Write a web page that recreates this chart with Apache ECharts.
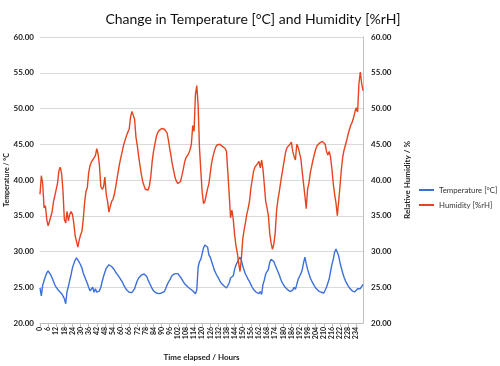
<!DOCTYPE html>
<html>
<head>
<meta charset="utf-8">
<script src="https://cdn.jsdelivr.net/npm/echarts@6/dist/echarts.min.js"></script>
<style>html,body{margin:0;padding:0;background:#fff}#c{width:500px;height:366px}</style>
</head>
<body>
<div id="c"></div>
<script>
// hours elapsed (category axis), one sample per hour
const hours = Array.from({length: 240}, (_, i) => String(i));

const temperature = [
24.9,23.8,25.3,25.9,26.5,27.0,27.3,27.1,26.7,26.3,25.8,25.3,25.0,24.8,24.5,24.3,24.1,23.8,23.4,22.7,
24.4,25.1,26.0,26.75,27.7,28.3,28.8,29.1,28.95,28.5,28.15,27.7,27.0,26.5,26.0,25.55,25.0,24.5,24.7,25.0,
24.3,24.8,24.3,24.2,24.5,25.0,25.8,26.5,27.1,27.65,27.9,28.15,28.1,27.9,27.7,27.45,27.1,26.85,26.6,26.3,
26.0,25.7,25.3,24.95,24.65,24.45,24.3,24.4,24.25,24.3,24.8,25.4,25.9,26.3,26.5,26.7,26.8,26.85,26.7,26.5,
26.0,25.6,25.2,24.8,24.5,24.35,24.2,24.1,24.1,24.1,24.2,24.2,24.4,24.8,25.3,25.7,26.0,26.4,26.7,26.8,
26.9,26.95,26.9,26.7,26.4,26.1,25.8,25.5,25.3,25.1,25.0,24.8,24.65,24.5,24.5,24.1,24.6,27.8,28.6,28.9,
29.7,30.5,30.9,31.0,30.6,29.5,29.2,28.6,28.0,27.4,27.0,26.6,26.3,25.9,25.6,25.4,25.2,25.05,24.9,24.85,
25.6,26.3,26.2,26.6,27.5,28.1,28.5,28.9,29.2,28.8,28.0,27.4,26.85,26.5,26.1,25.8,25.4,25.0,24.7,24.5,
24.3,24.15,24.1,24.4,24.0,25.4,26.0,26.85,27.2,27.5,28.5,28.9,28.9,28.6,28.1,27.65,27.2,26.75,26.2,25.7,
25.4,25.1,24.9,24.7,24.5,24.4,24.45,24.6,25.0,24.7,25.4,26.1,26.5,26.9,27.4,28.4,29.2,28.3,27.5,26.9,
26.3,25.9,25.55,25.2,24.9,24.7,24.5,24.4,24.3,24.2,24.2,24.4,25.0,24.9,26.2,27.2,28.2,28.9,29.9,30.35,
30.3,29.4,28.4,27.7,27.0,26.4,25.9,25.55,25.2,24.9,24.7,24.5,24.4,24.35,24.5,24.8,24.7,24.8,25.0,25.4
];

const humidity = [
38.0,40.6,39.5,36.1,36.4,34.5,33.6,34.2,34.9,35.6,37.0,37.8,38.7,39.6,41.3,41.8,40.9,38.5,34.5,34.0,
35.6,34.3,35.2,35.6,35.2,34.0,32.2,32.3,30.6,31.6,32.3,32.8,34.5,36.8,38.4,38.9,41.0,42.0,42.5,42.8,
43.1,43.4,44.4,43.6,42.0,39.1,38.7,39.0,40.4,38.0,37.0,35.5,36.3,37.0,37.3,38.0,39.0,40.2,41.3,42.4,
43.3,44.1,45.0,45.6,46.2,46.7,47.1,48.8,49.6,49.8,48.5,46.0,44.8,43.3,42.0,40.8,39.8,39.2,38.7,38.5,
38.6,39.2,40.5,42.6,44.0,45.0,46.0,46.6,46.9,47.1,47.2,47.2,47.1,47.0,46.6,45.6,44.4,43.3,42.1,41.2,
40.3,39.8,39.5,39.5,39.8,40.6,41.5,42.5,43.1,43.4,43.7,44.2,45.0,47.6,46.8,51.9,53.2,50.5,44.5,41.3,
38.3,36.7,37.0,36.9,38.8,39.5,41.0,42.4,43.3,44.0,44.6,44.9,45.0,45.0,44.85,44.7,44.5,44.4,44.0,41.0,
38.0,34.7,35.8,34.5,32.4,30.8,29.8,28.4,27.2,29.0,31.7,33.0,34.0,35.2,36.0,37.0,38.8,40.0,41.2,41.8,
42.0,42.3,42.6,41.7,42.8,41.5,39.3,37.0,36.1,35.0,32.5,31.2,30.3,31.0,32.5,35.6,37.2,38.3,39.6,40.8,
41.9,43.1,44.1,44.6,44.8,45.0,45.3,44.0,43.3,42.8,45.0,44.6,43.8,43.0,41.2,39.5,37.8,36.0,38.7,39.6,
41.0,41.9,42.8,43.6,44.3,44.8,45.0,45.2,45.3,45.4,45.6,45.0,44.0,43.5,44.0,43.2,41.5,39.5,38.0,36.8,
35.0,37.0,39.2,41.5,43.2,44.2,44.9,45.6,46.4,47.1,47.7,48.1,48.7,49.5,50.1,49.5,53.5,55.1,53.5,52.5
];

const yMin = 20, yMax = 60, yStep = 5;
const titleText = 'Change in Temperature [°C] and Humidity [%rH]';
const tempName = 'Temperature [°C]';
const humName = 'Humidity [%rH]';

const chart = echarts.init(document.getElementById('c'), null, {renderer: 'canvas'});
const FONT = 'Lato, "Open Sans", sans-serif';
const yLabel = {fontSize: 8, fontWeight: 'bold', color: '#222', fontFamily: FONT, formatter: v => v.toFixed(2)};
chart.setOption({
  animation: false,
  title: {text: titleText, left: 248, textAlign: 'center', top: 7,
    textStyle: {fontSize: 14, fontWeight: 'normal', color: '#111', fontFamily: FONT}},
  legend: {orient: 'vertical', left: 414, top: 181, itemWidth: 15, itemHeight: 2, itemGap: 7,
    icon: 'rect',
    textStyle: {fontSize: 7.8, color: '#333', fontFamily: FONT},
    data: [tempName, humName]},
  grid: {left: 40, right: 137, top: 37, bottom: 43, containLabel: false, outerBoundsMode: 'none'},
  xAxis: {type: 'category', data: hours, boundaryGap: false,
    name: 'Time elapsed / Hours', nameLocation: 'middle', nameGap: 30, nameMoveOverlap: false,
    nameTextStyle: {fontSize: 8, fontWeight: 'bold', color: '#222', fontFamily: FONT},
    axisLine: {show: true, lineStyle: {color: '#bfbfbf'}},
    axisTick: {show: true, interval: 5, length: 4, lineStyle: {color: '#bfbfbf'}},
    axisLabel: {interval: 5, rotate: 90, fontSize: 7, fontWeight: 'bold', color: '#222', fontFamily: FONT, margin: 4},
    splitLine: {show: false}},
  yAxis: [
    {type: 'value', min: yMin, max: yMax, interval: yStep, position: 'left',
      name: 'Temperature / °C', nameLocation: 'middle', nameGap: 30, nameRotate: 90, nameMoveOverlap: false,
      nameTextStyle: {fontSize: 7, fontWeight: 'bold', color: '#222', fontFamily: FONT},
      axisLine: {show: false}, axisTick: {show: false},
      axisLabel: Object.assign({margin: 6}, yLabel),
      splitLine: {lineStyle: {color: '#d9d9d9', width: 1}}},
    {type: 'value', min: yMin, max: yMax, interval: yStep, position: 'right',
      name: 'Relative Humidity / %', nameLocation: 'middle', nameGap: 40, nameRotate: 90, nameMoveOverlap: false,
      nameTextStyle: {fontSize: 8, fontWeight: 'bold', color: '#222', fontFamily: FONT},
      axisLine: {show: true, lineStyle: {color: '#bfbfbf'}}, axisTick: {show: false},
      axisLabel: Object.assign({margin: 8}, yLabel),
      splitLine: {show: false}}
  ],
  series: [
    {name: tempName, type: 'line', data: temperature, yAxisIndex: 0, showSymbol: false,
      lineStyle: {color: '#3b70d8', width: 1.4}, itemStyle: {color: '#3b70d8'}},
    {name: humName, type: 'line', data: humidity, yAxisIndex: 1, showSymbol: false,
      lineStyle: {color: '#e8431f', width: 1.4}, itemStyle: {color: '#e8431f'}}
  ]
});
</script>
</body>
</html>
